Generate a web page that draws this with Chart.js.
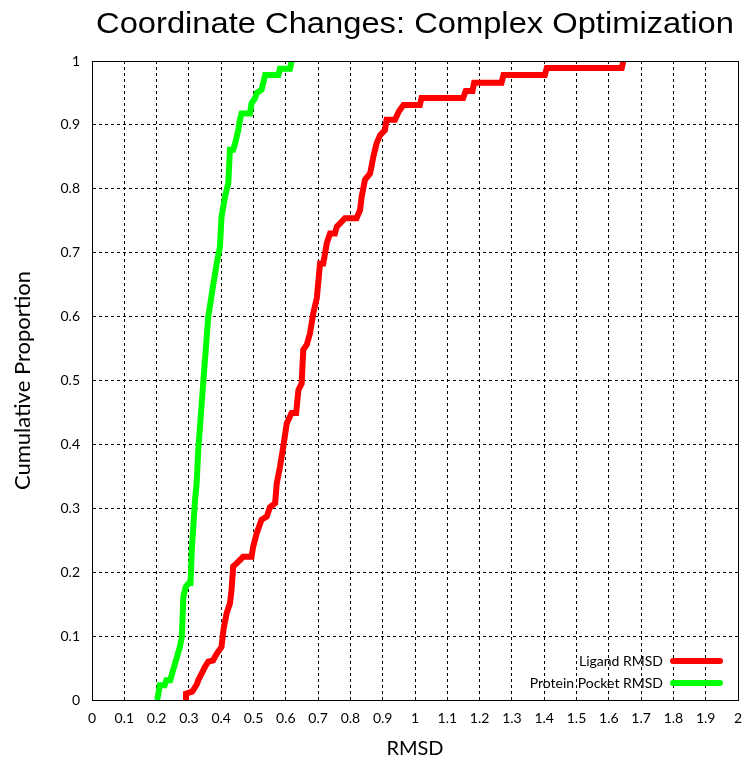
<!DOCTYPE html>
<html>
<head>
<meta charset="utf-8">
<script src="https://cdn.jsdelivr.net/npm/chart.js@4.4.1/dist/chart.umd.min.js"></script>
<style>
  body { margin: 0; background: #fff; }
  #wrap { width: 754px; height: 767px; }
</style>
</head>
<body>
<div id="wrap"><canvas id="c" width="754" height="767"></canvas></div>
<script>
// RMSD values (x) and cumulative proportion (y)
const ligandX = [0.288,0.291,0.31,0.314,0.325,0.329,0.34,0.35,0.36,0.375,0.381,0.391,0.401,0.407,0.417,0.427,0.432,0.437,0.448,0.468,0.494,0.499,0.51,0.525,0.541,0.551,0.567,0.572,0.582,0.592,0.603,0.618,0.632,0.639,0.649,0.654,0.665,0.675,0.685,0.696,0.706,0.716,0.727,0.737,0.752,0.758,0.768,0.783,0.819,0.83,0.835,0.845,0.861,0.871,0.881,0.892,0.907,0.912,0.938,0.95,0.964,1.015,1.02,1.149,1.157,1.178,1.183,1.268,1.274,1.402,1.408,1.64,1.645];
const ligandY = [0,0.01,0.013,0.016,0.025,0.031,0.042,0.052,0.06,0.062,0.068,0.076,0.083,0.11,0.136,0.151,0.172,0.209,0.214,0.224,0.224,0.24,0.261,0.282,0.287,0.302,0.308,0.339,0.365,0.396,0.433,0.449,0.449,0.485,0.495,0.548,0.556,0.574,0.605,0.629,0.683,0.683,0.715,0.73,0.73,0.741,0.746,0.754,0.754,0.767,0.788,0.814,0.824,0.85,0.871,0.884,0.892,0.908,0.908,0.921,0.931,0.931,0.942,0.942,0.953,0.953,0.966,0.966,0.978,0.978,0.989,0.989,1.0];

const pocketX = [0.202,0.21,0.225,0.23,0.242,0.257,0.272,0.278,0.283,0.29,0.3,0.305,0.309,0.319,0.324,0.329,0.345,0.36,0.376,0.386,0.396,0.401,0.412,0.422,0.427,0.437,0.443,0.453,0.458,0.463,0.489,0.494,0.505,0.51,0.525,0.536,0.577,0.582,0.613,0.618];
const pocketY = [0,0.023,0.023,0.031,0.031,0.057,0.083,0.099,0.162,0.177,0.183,0.183,0.235,0.313,0.339,0.391,0.501,0.6,0.652,0.683,0.709,0.756,0.788,0.809,0.861,0.861,0.871,0.892,0.908,0.918,0.918,0.934,0.942,0.95,0.955,0.978,0.978,0.988,0.988,1.0];

const seriesNames = ['Ligand RMSD', 'Protein Pocket RMSD'];
const seriesColors = ['#ff0000', '#00ff00'];
const chartTitle = 'Coordinate Changes: Complex Optimization';

const toPoints = (xs, ys) => xs.map((x, i) => ({ x, y: ys[i] }));

const tickFont = { family: 'Lato', size: 14 };

// title over the plot, full black frame, legend inside the bottom right
const framePlugin = {
  id: 'frame',
  afterDraw(chart) {
    const { ctx, chartArea: a } = chart;
    ctx.save();
    ctx.setLineDash([]);
    ctx.strokeStyle = '#000';
    ctx.lineWidth = 1;
    ctx.strokeRect(a.left + 0.5, a.top + 0.5, a.right - a.left, a.bottom - a.top);

    // title, a little wider than plain Arial like the original
    ctx.save();
    ctx.translate((a.left + a.right) / 2, 33);
    ctx.scale(1.09, 1);
    ctx.font = '30px "Liberation Sans", Arial, sans-serif';
    ctx.fillStyle = '#000';
    ctx.textAlign = 'center';
    ctx.textBaseline = 'alphabetic';
    ctx.fillText(chartTitle, 0, 0);
    ctx.restore();

    ctx.font = '14px Lato';
    ctx.textAlign = 'right';
    ctx.textBaseline = 'middle';
    chart.data.datasets.forEach((ds, i) => {
      const y = a.bottom - 39 + i * 22;
      ctx.fillStyle = '#000';
      ctx.fillText(ds.label, a.right - 75, y);
      ctx.strokeStyle = ds.borderColor;
      ctx.lineWidth = 6;
      ctx.lineCap = 'round';
      ctx.beginPath();
      ctx.moveTo(a.right - 65, y);
      ctx.lineTo(a.right - 18, y);
      ctx.stroke();
    });
    ctx.restore();
  }
};

new Chart(document.getElementById('c'), {
  type: 'line',
  data: {
    datasets: [
      {
        label: seriesNames[0],
        data: toPoints(ligandX, ligandY),
        borderColor: seriesColors[0],
        borderWidth: 6,
        pointRadius: 0,
        tension: 0,
        fill: false,
      },
      {
        label: seriesNames[1],
        data: toPoints(pocketX, pocketY),
        borderColor: seriesColors[1],
        borderWidth: 6,
        pointRadius: 0,
        tension: 0,
        fill: false,
      }
    ]
  },
  options: {
    responsive: false,
    animation: false,
    layout: { padding: { left: 0, right: 16, top: 61, bottom: 6 } },
    scales: {
      x: {
        type: 'linear',
        min: 0,
        max: 2,
        ticks: {
          stepSize: 0.1,
          color: '#000',
          font: tickFont,
          padding: 10,
          maxRotation: 0,
          autoSkip: false,
          callback: v => String(Math.round(v * 10) / 10)
        },
        grid: { color: '#000', lineWidth: 1, drawTicks: false },
        border: { display: true, color: '#000', dash: [3, 3] },
        title: {
          display: true,
          text: 'RMSD',
          color: '#000',
          font: { family: 'Lato', size: 20 },
          padding: { top: 6, bottom: 0 }
        },
        afterFit(scale) { scale.height = 61; }
      },
      y: {
        type: 'linear',
        min: 0,
        max: 1,
        ticks: {
          stepSize: 0.1,
          color: '#000',
          font: tickFont,
          padding: 12,
          callback: v => String(Math.round(v * 10) / 10)
        },
        grid: { color: '#000', lineWidth: 1, drawTicks: false },
        border: { display: true, color: '#000', dash: [3, 3] },
        title: {
          display: true,
          text: 'Cumulative Proportion',
          color: '#000',
          font: { family: 'Lato', size: 22 },
          padding: { top: 10, bottom: 0 }
        },
        afterFit(scale) { scale.width = 92; }
      }
    },
    plugins: {
      legend: { display: false },
      tooltip: { enabled: false },
      title: { display: false }
    }
  },
  plugins: [framePlugin]
});
</script>
</body>
</html>
